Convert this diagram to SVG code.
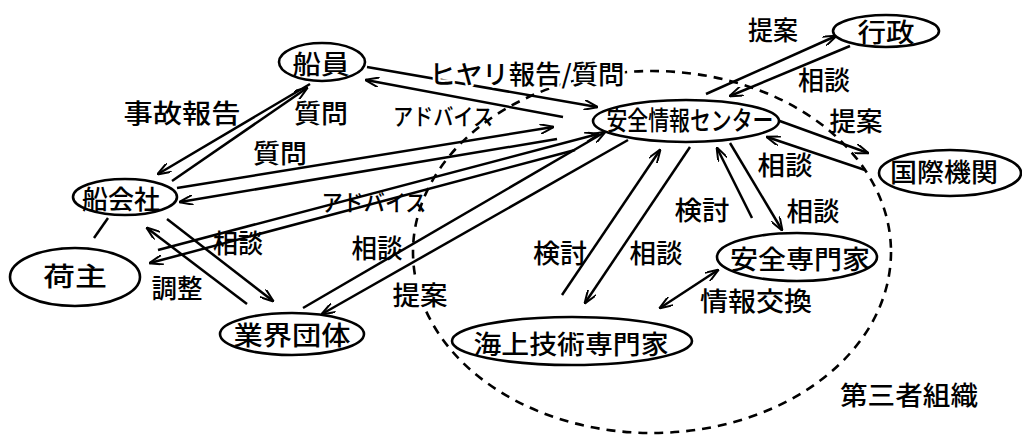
<svg xmlns="http://www.w3.org/2000/svg" width="1022" height="438" viewBox="0 0 1022 438">
<defs>
<style>
.bg{fill:#fff}
.node ellipse{fill:#fff;stroke:#000;stroke-width:2.6}
.t{font-family:"Noto Sans CJK JP","Noto Sans CJK SC",sans-serif;font-size:26px;font-weight:500;text-anchor:middle;fill:#000}
.k{font-size:23px}
.h{stroke:#fff;stroke-width:5px;paint-order:stroke;stroke-linejoin:round}
.conn line{stroke:#000;stroke-width:2.5;fill:none}
.conn .a{marker-end:url(#arr)}
.conn .b{marker-start:url(#arr);marker-end:url(#arr)}
.dash{fill:none;stroke:#000;stroke-width:2.6;stroke-dasharray:9 7}
</style>
<marker id="arr" viewBox="0 0 14 10" refX="13" refY="5" markerWidth="14" markerHeight="10" markerUnits="userSpaceOnUse" orient="auto-start-reverse">
<path d="M0,0 L14,5 L0,10" fill="none" stroke="#000" stroke-width="2"/>
</marker>
</defs>
<rect class="bg" x="0" y="0" width="1022" height="438"/>

<ellipse id="third-party" class="dash" cx="652" cy="252" rx="239" ry="181"/>

<g id="connectors" class="conn">
<line class="a" x1="310" y1="84" x2="158" y2="174"/>
<line class="a" x1="172" y1="181" x2="307" y2="88"/>
<line class="a" x1="367" y1="67" x2="597" y2="107"/>
<line class="a" x1="563" y1="117" x2="366" y2="80"/>
<line class="a" x1="177" y1="188" x2="553" y2="127"/>
<line class="a" x1="557" y1="139" x2="180" y2="202"/>
<line class="a" x1="158" y1="250" x2="598" y2="134"/>
<line class="a" x1="575" y1="150" x2="150" y2="263"/>
<line class="a" x1="303" y1="308" x2="605" y2="132"/>
<line class="a" x1="628" y1="140" x2="322" y2="314"/>
<line class="a" x1="167" y1="219" x2="273" y2="301"/>
<line class="a" x1="247" y1="304" x2="147" y2="228"/>
<line class="a" x1="706" y1="94" x2="836" y2="36"/>
<line class="a" x1="850" y1="46" x2="730" y2="96"/>
<line class="a" x1="777" y1="120" x2="868" y2="153"/>
<line class="a" x1="865" y1="170" x2="767" y2="137"/>
<line class="a" x1="752" y1="218" x2="717" y2="148"/>
<line class="a" x1="730" y1="143" x2="782" y2="230"/>
<line class="a" x1="562" y1="295" x2="660" y2="150"/>
<line class="a" x1="690" y1="147" x2="585" y2="303"/>
<line class="b" x1="718" y1="270" x2="660" y2="308"/>
<line x1="108" y1="218" x2="94" y2="238"/>
</g>

<g id="labels">
<text class="t" x="182" y="123" textLength="117" lengthAdjust="spacingAndGlyphs">事故報告</text>
<text class="t" x="321" y="123" textLength="54" lengthAdjust="spacingAndGlyphs">質問</text>
<text class="t k" x="443" y="125" textLength="100" lengthAdjust="spacingAndGlyphs">アドバイス</text>
<text class="t" x="280" y="163" textLength="54" lengthAdjust="spacingAndGlyphs">質問</text>
<text class="t h" x="527" y="84" textLength="195" lengthAdjust="spacingAndGlyphs">ヒヤリ報告/質問</text>
<text class="t" x="773" y="40" textLength="50" lengthAdjust="spacingAndGlyphs">提案</text>
<text class="t" x="824" y="90" textLength="52" lengthAdjust="spacingAndGlyphs">相談</text>
<text class="t" x="856" y="131" textLength="53" lengthAdjust="spacingAndGlyphs">提案</text>
<text class="t" x="785" y="175" textLength="55" lengthAdjust="spacingAndGlyphs">相談</text>
<text class="t" x="813" y="221" textLength="53" lengthAdjust="spacingAndGlyphs">相談</text>
<text class="t" x="702" y="220" textLength="55" lengthAdjust="spacingAndGlyphs">検討</text>
<text class="t" x="560" y="263" textLength="54" lengthAdjust="spacingAndGlyphs">検討</text>
<text class="t" x="656" y="263" textLength="53" lengthAdjust="spacingAndGlyphs">相談</text>
<text class="t" x="756" y="311" textLength="112" lengthAdjust="spacingAndGlyphs">情報交換</text>
<text class="t" x="909" y="405" textLength="138" lengthAdjust="spacingAndGlyphs">第三者組織</text>
<text class="t" x="238" y="253" textLength="50" lengthAdjust="spacingAndGlyphs">相談</text>
<text class="t" x="177" y="298" textLength="51" lengthAdjust="spacingAndGlyphs">調整</text>
<text class="t" x="377" y="258" textLength="51" lengthAdjust="spacingAndGlyphs">相談</text>
<text class="t h" x="420" y="305" textLength="55" lengthAdjust="spacingAndGlyphs">提案</text>
<text class="t k" x="374" y="211" textLength="105" lengthAdjust="spacingAndGlyphs">アドバイス</text>
</g>

<g id="n-seni" class="node"><ellipse cx="322" cy="62" rx="43" ry="19"/><text class="t" x="321" y="74" textLength="57" lengthAdjust="spacingAndGlyphs">船員</text></g>
<g id="n-center" class="node"><ellipse cx="686" cy="121" rx="93" ry="21"/><text class="t" x="690" y="130" textLength="167" lengthAdjust="spacingAndGlyphs">安全情報センター</text></g>
<g id="n-gyosei" class="node"><ellipse cx="886" cy="31" rx="53" ry="16"/><text class="t" x="886" y="42" textLength="57" lengthAdjust="spacingAndGlyphs">行政</text></g>
<g id="n-kokusai" class="node"><ellipse cx="950" cy="173" rx="71" ry="23"/><text class="t" x="944" y="182" textLength="108" lengthAdjust="spacingAndGlyphs">国際機関</text></g>
<g id="n-funagaisha" class="node"><ellipse cx="125" cy="197" rx="52" ry="18"/><text class="t" x="121" y="209" textLength="78" lengthAdjust="spacingAndGlyphs">船会社</text></g>
<g id="n-ninushi" class="node"><ellipse cx="75" cy="277" rx="65" ry="29"/><text class="t" x="75" y="286" textLength="64" lengthAdjust="spacingAndGlyphs">荷主</text></g>
<g id="n-gyokai" class="node"><ellipse cx="292" cy="334" rx="72" ry="21"/><text class="t" x="292" y="345" textLength="117" lengthAdjust="spacingAndGlyphs">業界団体</text></g>
<g id="n-kaijo" class="node"><ellipse cx="572" cy="341" rx="120" ry="24"/><text class="t" x="571" y="354" textLength="195" lengthAdjust="spacingAndGlyphs">海上技術専門家</text></g>
<g id="n-anzen" class="node"><ellipse cx="797" cy="257" rx="80" ry="24"/><text class="t" x="800" y="269" textLength="140" lengthAdjust="spacingAndGlyphs">安全専門家</text></g>
</svg>
